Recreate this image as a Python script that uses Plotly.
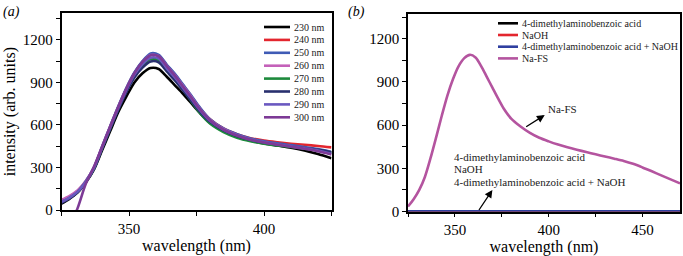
import plotly.graph_objects as go

W, H = 683, 256

# ---------------- Panel (a) data ----------------
wl_a = [325, 328, 331, 334, 337, 340, 343, 346, 349, 352, 355, 358, 361, 364,
        367, 370, 373, 376, 380, 385, 390, 395, 400, 405, 410, 415, 420, 425]

s230 = [45, 80, 125, 195, 285, 420, 555, 690, 800, 900, 965, 1002, 995, 940,
        880, 820, 755, 690, 615, 560, 520, 490, 470, 455, 440, 420, 395, 365]
s240 = [60, 90, 132, 200, 295, 440, 585, 725, 855, 965, 1045, 1098, 1090, 1020,
        955, 880, 805, 725, 640, 575, 535, 507, 490, 478, 468, 460, 452, 442]
s250 = [62, 92, 135, 205, 300, 447, 590, 730, 860, 970, 1050, 1105, 1095, 1025,
        960, 885, 810, 730, 640, 575, 535, 505, 485, 470, 458, 445, 430, 410]
s260 = [72, 100, 140, 205, 298, 443, 585, 722, 850, 960, 1040, 1093, 1085, 1015,
        950, 875, 800, 720, 635, 570, 528, 498, 478, 462, 450, 437, 422, 405]
s270 = [55, 85, 128, 198, 290, 435, 575, 712, 838, 945, 1020, 1065, 1058, 990,
        925, 850, 770, 690, 610, 550, 510, 485, 468, 455, 445, 433, 420, 405]
s280 = [50, 82, 126, 196, 290, 432, 572, 708, 832, 935, 1005, 1048, 1042, 978,
        915, 845, 772, 700, 622, 562, 522, 495, 476, 462, 450, 438, 424, 408]
s290 = [58, 88, 130, 200, 295, 440, 582, 720, 848, 955, 1030, 1075, 1068, 1000,
        935, 862, 788, 712, 630, 567, 527, 498, 478, 463, 450, 436, 420, 395]
s300 = [-260, -120, 15, 185, 305, 445, 588, 726, 855, 965, 1045, 1092, 1085, 1015,
        948, 872, 796, 718, 634, 568, 526, 496, 476, 460, 446, 432, 415, 392]

names_a = ["230 nm", "240 nm", "250 nm", "260 nm", "270 nm", "280 nm", "290 nm", "300 nm"]
series_a = [s230, s240, s250, s260, s270, s280, s290, s300]
colors_a = ["#000000", "#e3262e", "#3f5bb5", "#c461b9", "#1d8a3c", "#29306e", "#6a58c0", "#7d3a96"]

# ---------------- Panel (b) data ----------------
wl_b = [325, 328, 331, 334, 337, 340, 343, 346, 349, 352, 355, 358, 361, 364,
        367, 370, 373, 376, 380, 385, 390, 395, 400, 405, 410, 415, 420, 425,
        430, 435, 440, 445, 450, 455, 460, 465, 470]
nafs = [35, 85, 150, 240, 370, 515, 665, 805, 920, 1010, 1065, 1088, 1070, 1010,
        935, 860, 785, 715, 645, 590, 546, 512, 487, 465, 446, 429, 413, 397,
        382, 367, 351, 331, 306, 279, 251, 223, 195]
wl_flat = [325, 470]
acid = [2, 2]
naoh = [2, 2]
acid_naoh = [2, 2]

names_b = ["4-dimethylaminobenzoic acid", "NaOH", "4-dimethylaminobenzoic acid + NaOH", "Na-FS"]
series_b = [(wl_flat, acid), (wl_flat, naoh), (wl_flat, acid_naoh), (wl_b, nafs)]
colors_b = ["#000000", "#e3262e", "#2f3fa0", "#b4549f"]

callout_low = ["4-dimethylaminobenzoic acid", "NaOH", "4-dimethylaminobenzoic acid + NaOH"]

FONT = "Liberation Serif, Times New Roman, serif"

fig = go.Figure()
for name, ys, c in zip(names_a, series_a, colors_a):
    fig.add_trace(go.Scatter(x=wl_a, y=ys, mode="lines", name=name,
                             line=dict(color=c, width=2.6, shape="spline", smoothing=0.8),
                             xaxis="x", yaxis="y", showlegend=False))
for name, (xs, ys), c in zip(names_b, series_b, colors_b):
    fig.add_trace(go.Scatter(x=xs, y=ys, mode="lines", name=name,
                             line=dict(color=c, width=2.6, shape="spline", smoothing=0.8),
                             xaxis="x2", yaxis="y2", showlegend=False))

def px(x):
    return x / W

def py(y):
    return 1 - y / H

axis_common = dict(showline=True, linecolor="black", linewidth=1.6, mirror=True,
                   ticks="outside", ticklen=4, tickwidth=1.3, tickcolor="black",
                   showgrid=False, zeroline=False, automargin=False,
                   tickfont=dict(family=FONT, size=15, color="black"))
minor_x = dict(dtick=25, tick0=0, ticks="outside", ticklen=4, tickwidth=1.3, tickcolor="black")
minor_y = dict(dtick=150, tick0=0, ticks="outside", ticklen=4, tickwidth=1.3, tickcolor="black")

fig.update_layout(
    width=W, height=H, margin=dict(l=0, r=0, t=0, b=0),
    paper_bgcolor="white", plot_bgcolor="white",
    font=dict(family=FONT, color="black"),
    xaxis=dict(domain=[px(61.5), px(331.5)], range=[325, 425], dtick=50, tick0=0,
               minor=minor_x, anchor="y",
               title=dict(text="wavelength (nm)", font=dict(family=FONT, size=16), standoff=4),
               **axis_common),
    yaxis=dict(domain=[py(210), py(13.3)], range=[0, 1388], dtick=300, tick0=0,
               minor=minor_y, anchor="x",
               title=dict(text="intensity (arb. units)", font=dict(family=FONT, size=16), standoff=3),
               **axis_common),
    xaxis2=dict(domain=[px(408), px(680)], range=[325, 470], dtick=50, tick0=0,
                minor=minor_x, anchor="y2",
                title=dict(text="wavelength (nm)", font=dict(family=FONT, size=16), standoff=4),
                **axis_common),
    yaxis2=dict(domain=[py(211.5), py(13.5)], range=[0, 1375], dtick=300, tick0=0,
                minor=minor_y, anchor="x2",
                **axis_common),
)

shapes = []
annotations = []

# manual legend (a)
for i, (name, c) in enumerate(zip(names_a, colors_a)):
    yy = 27 + 12.9 * i
    shapes.append(dict(type="line", xref="paper", yref="paper", x0=px(264), x1=px(290),
                       y0=py(yy), y1=py(yy), line=dict(color=c, width=2.6)))
    annotations.append(dict(text=name, xref="paper", yref="paper", x=px(292), y=py(yy),
                            xanchor="left", yanchor="middle", showarrow=False,
                            font=dict(family=FONT, size=10, color="#222")))

# manual legend (b)
for i, (name, c) in enumerate(zip(names_b, colors_b)):
    yy = 23.3 + 11.7 * i
    shapes.append(dict(type="line", xref="paper", yref="paper", x0=px(498), x1=px(518),
                       y0=py(yy), y1=py(yy), line=dict(color=c, width=2.6)))
    annotations.append(dict(text=name, xref="paper", yref="paper", x=px(520), y=py(yy),
                            xanchor="left", yanchor="middle", showarrow=False,
                            font=dict(family=FONT, size=10, color="#222")))

# panel labels
annotations.append(dict(text="<i>(a)</i>", xref="paper", yref="paper", x=px(1), y=py(2),
                        xanchor="left", yanchor="top", showarrow=False,
                        font=dict(family=FONT, size=14)))
annotations.append(dict(text="<i>(b)</i>", xref="paper", yref="paper", x=px(346), y=py(2),
                        xanchor="left", yanchor="top", showarrow=False,
                        font=dict(family=FONT, size=14)))

# panel (b) callouts
annotations.append(dict(text="Na-FS", xref="x2", yref="y2", x=407.5, y=712,
                        xanchor="center", yanchor="middle", showarrow=False,
                        font=dict(family=FONT, size=11, color="#222")))
annotations.append(dict(text="", xref="x2", yref="y2", x=397.9, y=670,
                        axref="x2", ayref="y2", ax=387.2, ay=582,
                        showarrow=True, arrowhead=2, arrowsize=1.2, arrowwidth=1.3,
                        arrowcolor="black"))
for i, t in enumerate(callout_low):
    yy = 156.5 + 12.5 * i
    annotations.append(dict(text=t, xref="paper", yref="paper", x=px(452), y=py(yy),
                            xanchor="left", yanchor="middle", showarrow=False,
                            font=dict(family=FONT, size=11, color="#222")))
annotations.append(dict(text="", xref="x2", yref="y2", x=370, y=150,
                        axref="x2", ayref="y2", ax=362.3, ay=0,
                        showarrow=True, arrowhead=2, arrowsize=1.2, arrowwidth=1.3,
                        arrowcolor="black"))

fig.update_layout(shapes=shapes, annotations=annotations)
fig.write_html("out.html", config={"displayModeBar": False},
               post_script="document.body.style.margin='0';document.body.style.overflow='hidden';")
